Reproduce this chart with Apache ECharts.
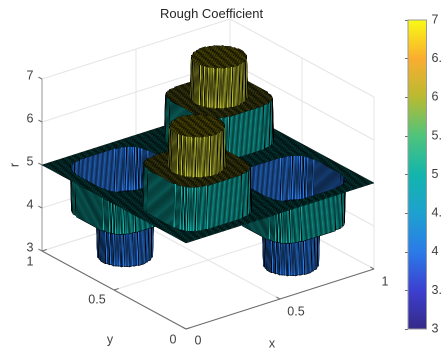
<!DOCTYPE html>
<html><head><meta charset="utf-8">
<style>html,body{margin:0;padding:0;background:#fff;overflow:hidden}#c{width:441px;height:351px;filter:blur(0.45px)}</style>
<script src="https://cdn.jsdelivr.net/npm/echarts@6/dist/echarts.min.js"></script>
</head><body><div id="c"></div>
<script>
// ---- values ----
const chartTitle = 'Rough Coefficient';
const xTicks = [0, 0.5, 1];
const yTicks = [0, 0.5, 1];
const zTicks = [3, 4, 5, 6, 7];
const planeLevel = 5;
const raisedCentres = [[0.25, 0.25], [0.75, 0.75]];
const sunkenCentres = [[0.25, 0.75], [0.75, 0.25]];
const raisedLevels = [6, 6.92];   // shoulder, cap
const sunkenLevels = [4, 3];      // shoulder, floor
const shoulderHalfWidth = 0.193;
const coreRadius = 0.118;
const meshCells = 150;
const colourLevels = [3, 3.5, 4, 4.5, 5, 5.5, 6, 6.5, 7];
const colourStops = ['#352a87', '#3d3fd0', '#2b7be8', '#1fa1d0', '#13b5ad', '#4fc47c', '#b9bb32', '#fbae30', '#f9fb15'];
// axonometric view of the MATLAB box
const view = { origin: [186, 329], xStep: [188, -60], yStep: [-144, -78], zStep: [0, -43], zBase: 3 };

// ---- surface mesh ----
function heightAt(x, y) {
  const test = (centres, levels) => {
    for (const c of centres) {
      const u = x - c[0], v = y - c[1];
      if (u * u + v * v < coreRadius * coreRadius) return levels[1];
      if (u ** 4 + v ** 4 < shoulderHalfWidth ** 4) return levels[0];
    }
    return null;
  };
  const a = test(raisedCentres, raisedLevels);
  if (a !== null) return a;
  const b = test(sunkenCentres, sunkenLevels);
  return b !== null ? b : planeLevel;
}
const facets = [];
for (let i = meshCells - 1; i >= 0; i--) {
  for (let j = meshCells - 1; j >= 0; j--) {
    const x0 = i / meshCells, x1 = (i + 1) / meshCells, y0 = j / meshCells, y1 = (j + 1) / meshCells;
    facets.push([x0, x1, y0, y1, heightAt(x0, y0), heightAt(x1, y0), heightAt(x1, y1), heightAt(x0, y1)]);
  }
}
function project(x, y, z) {
  return [
    view.origin[0] + view.xStep[0] * x + view.yStep[0] * y,
    view.origin[1] + view.xStep[1] * x + view.yStep[1] * y + view.zStep[1] * (z - view.zBase)
  ];
}
function hex(c) { return [1, 3, 5].map(k => parseInt(c.substr(k, 2), 16)); }
const colourCache = {};
function colourOf(z) {
  if (colourCache[z]) return colourCache[z];
  let k = 0;
  while (k < colourLevels.length - 2 && z > colourLevels[k + 1]) k++;
  const t = (z - colourLevels[k]) / (colourLevels[k + 1] - colourLevels[k]);
  const a = hex(colourStops[k]), b = hex(colourStops[k + 1]);
  return colourCache[z] = 'rgb(' + a.map((v, n) => Math.round(v + (b[n] - v) * t)).join(',') + ')';
}

// ---- box: gridlines, axes, ticks ----
const zMin = zTicks[0], zMax = zTicks[zTicks.length - 1];
const gridSegs = [];
zTicks.forEach(z => { gridSegs.push([0, 1, z, 1, 1, z, 0], [1, 1, z, 1, 0, z, 0]); });
xTicks.forEach(x => { gridSegs.push([x, 1, zMin, x, 1, zMax, 0], [x, 0, zMin, x, 1, zMin, 0]); });
yTicks.forEach(y => { gridSegs.push([1, y, zMin, 1, y, zMax, 0], [0, y, zMin, 1, y, zMin, 0]); });
gridSegs.push([0, 1, zMin, 0, 1, zMax, 1]);
gridSegs.push([0, 0, zMin, 1, 0, zMin, 2], [0, 0, zMin, 0, 1, zMin, 2]);
zTicks.forEach(z => gridSegs.push([0, 1, z, 0, 1.025, z, 2]));
xTicks.forEach(x => gridSegs.push([x, 0, zMin, x, 0.025, zMin, 2]));
yTicks.forEach(y => gridSegs.push([0, y, zMin, 0.025, y, zMin, 2]));
const segStyles = [
  { stroke: '#e6e6e6', lineWidth: 1 },
  { stroke: '#b4b4b4', lineWidth: 1.4 },
  { stroke: '#6e6e6e', lineWidth: 1 }
];

// ---- labels: anchor in the box + pixel offset ----
const labelRows = [];
zTicks.forEach(z => labelRows.push([0, 1, z, -12, -3, String(z)]));
[[0, -13, 11], [0.5, -17, 10], [1, -12, 11]].forEach((r, n) => labelRows.push([0, yTicks[n], zMin, r[1], r[2], String(yTicks[n])]));
[[12, 12], [16, 13], [11, 13]].forEach((r, n) => labelRows.push([xTicks[n], 0, zMin, r[0], r[1], String(xTicks[n])]));
labelRows.push([0.5, 0, zMin, -8, 45, 'x']);
labelRows.push([0, 0.5, zMin, -4, 50, 'y']);
const labelFont = '12.5px "Liberation Sans", Arial, sans-serif';

const chart = echarts.init(document.getElementById('c'), null, { renderer: 'canvas', devicePixelRatio: 2 });
chart.setOption({
  animation: false,
  backgroundColor: '#fff',
  title: { text: chartTitle, left: 155, top: 3, textStyle: { fontFamily: 'Liberation Sans', fontSize: 13, fontWeight: 'normal', color: '#262626' } },
  grid: [
    { left: 0, right: 0, top: 0, bottom: 0, outerBoundsMode: 'none' },
    { left: 408, width: 18.5, top: 20, height: 309, outerBoundsMode: 'none' }
  ],
  xAxis: [
    { gridIndex: 0, type: 'value', min: 0, max: 441, show: false },
    { gridIndex: 1, type: 'value', min: 0, max: 1, show: false }
  ],
  yAxis: [
    { gridIndex: 0, type: 'value', min: 0, max: 351, inverse: true, show: false },
    { gridIndex: 1, type: 'value', min: 3, max: 7, interval: 0.5, position: 'right', splitLine: { show: false },
      axisLine: { show: true, lineStyle: { color: '#9a9a9a' } },
      axisTick: { show: true, inside: true, length: 3, lineStyle: { color: '#6e6e6e' } },
      axisLabel: { color: '#404040', fontFamily: 'Liberation Sans', fontSize: 12.5, margin: 5, hideOverlap: false } }
  ],
  series: [
    { type: 'custom', name: 'box', xAxisIndex: 0, yAxisIndex: 0, silent: true, data: gridSegs, z: 1,
      renderItem: (p, api) => {
        const a = project(api.value(0), api.value(1), api.value(2));
        const b = project(api.value(3), api.value(4), api.value(5));
        const ca = api.coord(a), cb = api.coord(b);
        return { type: 'line', shape: { x1: ca[0], y1: ca[1], x2: cb[0], y2: cb[1] }, style: Object.assign({ fill: null }, segStyles[api.value(6)]) };
      } },
    { type: 'custom', name: 'surface', xAxisIndex: 0, yAxisIndex: 0, silent: true, progressive: 0, data: facets, z: 2,
      renderItem: (p, api) => {
        const x0 = api.value(0), x1 = api.value(1), y0 = api.value(2), y1 = api.value(3);
        const z00 = api.value(4);
        const pts = [project(x0, y0, z00), project(x1, y0, api.value(5)), project(x1, y1, api.value(6)), project(x0, y1, api.value(7))].map(q => api.coord(q));
        return { type: 'polygon', shape: { points: pts }, style: { fill: colourOf(z00), stroke: '#000', lineWidth: 0.5 } };
      } },
    { type: 'custom', name: 'labels', xAxisIndex: 0, yAxisIndex: 0, silent: true, z: 3,
      data: labelRows.map(r => r.slice(0, 5)),
      renderItem: (p, api) => {
        const c = api.coord(project(api.value(0), api.value(1), api.value(2)));
        return { type: 'text', style: { x: c[0] + api.value(3), y: c[1] + api.value(4), text: labelRows[p.dataIndex][5], font: labelFont, fill: '#404040', align: 'center', verticalAlign: 'middle' } };
      } },
    { type: 'custom', name: 'rlabel', xAxisIndex: 0, yAxisIndex: 0, silent: true, z: 3, data: [[0, 1, planeLevel]],
      renderItem: (p, api) => {
        const c = api.coord(project(api.value(0), api.value(1), api.value(2)));
        return { type: 'text', x: c[0] - 27, y: c[1], rotation: Math.PI / 2, style: { x: 0, y: 0, text: 'r', font: labelFont, fill: '#404040', align: 'center', verticalAlign: 'middle' } };
      } },
    { type: 'custom', name: 'colorbar', xAxisIndex: 1, yAxisIndex: 1, silent: true, z: 1, data: [[0, 1, zMin, zMax]],
      renderItem: (p, api) => {
        const a = api.coord([api.value(0), api.value(3)]), b = api.coord([api.value(1), api.value(2)]);
        return { type: 'rect', shape: { x: a[0], y: a[1], width: b[0] - a[0], height: b[1] - a[1] },
          style: { stroke: '#9a9a9a', lineWidth: 1, fill: new echarts.graphic.LinearGradient(0, 1, 0, 0,
            colourLevels.map((v, n) => ({ offset: (v - zMin) / (zMax - zMin), color: colourStops[n] }))) } };
      } }
  ]
});
</script></body></html>
